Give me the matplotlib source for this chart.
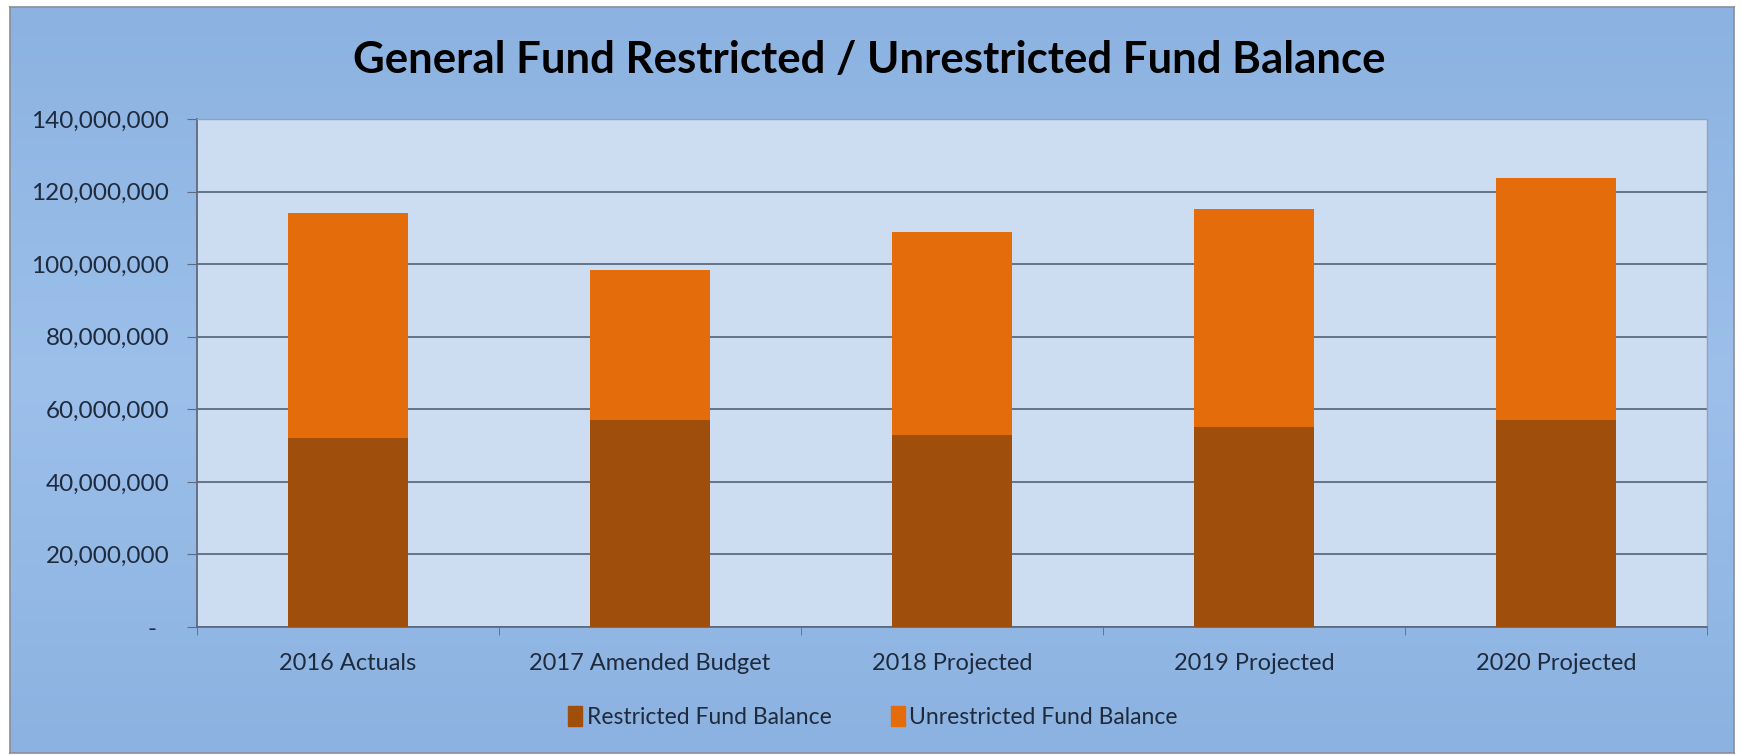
import numpy as np
import matplotlib.pyplot as plt
from matplotlib.patches import Rectangle
from matplotlib.ticker import FuncFormatter, MultipleLocator, FixedLocator

plt.rcParams['font.family'] = ['Lato', 'DejaVu Sans']

# data (in dollars)
categories = ['2016 Actuals', '2017 Amended Budget', '2018 Projected',
              '2019 Projected', '2020 Projected']
restricted = [52.0e6, 57.0e6, 53.0e6, 55.2e6, 57.0e6]
unrestricted = [62.0e6, 41.4e6, 55.8e6, 60.1e6, 66.7e6]

c_restr = '#A04E0C'
c_unres = '#E46C0A'
txt = '#1F2A3C'

W, H = 1741, 755
fig = plt.figure(figsize=(W / 100, H / 100), dpi=100, facecolor='white')

# outer chart area with a soft blue gradient
bg = fig.add_axes([10 / W, 1 - 753 / H, 1724 / W, 746 / H])
top = np.array([0x8C, 0xB2, 0xE1]) / 255
mid = np.array([0x9C, 0xC0, 0xEA]) / 255
t = np.abs(np.linspace(-1, 1, 200))[:, None, None]
grad = mid * (1 - t) + top * t
bg.imshow(grad, aspect='auto', extent=[0, 1, 0, 1])
bg.set_xticks([])
bg.set_yticks([])
for s in bg.spines.values():
    s.set_color('#8A8F96')
    s.set_linewidth(1.2)

# plot area
ax = fig.add_axes([197 / W, 1 - 627 / H, 1510 / W, 508 / H])
ax.set_facecolor('#CCDDF1')
x = np.arange(len(categories))
ax.bar(x, restricted, width=0.4, color=c_restr, zorder=3)
ax.bar(x, unrestricted, width=0.4, bottom=restricted, color=c_unres, zorder=3)

ax.set_xlim(-0.5, len(categories) - 0.5)
ax.set_ylim(0, 140e6)
ax.yaxis.set_major_locator(MultipleLocator(20e6))
ax.yaxis.set_major_formatter(FuncFormatter(
    lambda v, p: '-  ' if v == 0 else f'{v:,.0f}'))
ax.grid(axis='y', color='#5C6B80', linewidth=1.3, zorder=1)
ax.set_axisbelow(True)

ax.set_xticks(x)
ax.set_xticklabels(categories)
ax.xaxis.set_minor_locator(FixedLocator(np.arange(-0.5, len(categories), 1)))
ax.tick_params(axis='x', which='major', length=0, pad=19, labelsize=17,
               labelcolor=txt)
ax.tick_params(axis='x', which='minor', length=6, color='#5C6B80', direction='out')
ax.tick_params(axis='y', length=7, color='#5C6B80', pad=13, labelsize=17.5,
               labelcolor=txt)

for side in ['top', 'right']:
    ax.spines[side].set_color('#8FA3BF')
    ax.spines[side].set_linewidth(1.0)
for side in ['left', 'bottom']:
    ax.spines[side].set_color('#5C6B80')
    ax.spines[side].set_linewidth(1.3)

fig.text(869 / W, 1 - 60 / H,
         'General Fund Restricted / Unrestricted Fund Balance',
         ha='center', va='center', fontsize=31.5, fontweight='bold', color='black')

# legend
handles = [Rectangle((0, 0), 1, 1, color=c_restr),
           Rectangle((0, 0), 1, 1, color=c_unres)]
fig.legend(handles, ['Restricted Fund Balance', 'Unrestricted Fund Balance'],
           loc='center', bbox_to_anchor=(873 / W, 1 - 717 / H), ncol=2,
           frameon=False, fontsize=16.5, labelcolor=txt,
           handlelength=0.6, handleheight=1.0, handletextpad=0.2,
           columnspacing=2.6)

fig.savefig('out.png', dpi=100)
